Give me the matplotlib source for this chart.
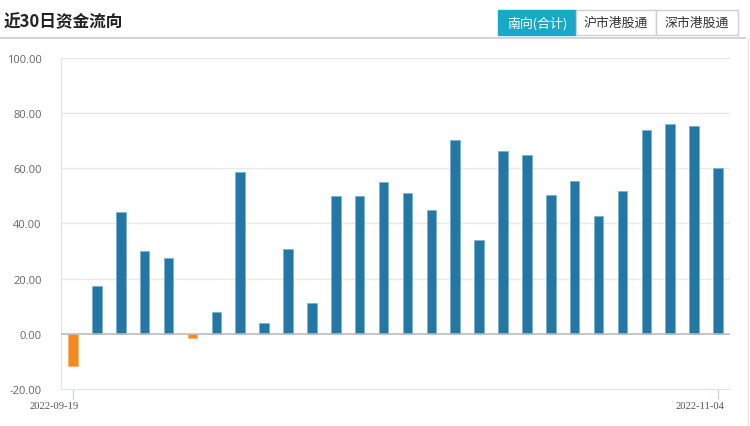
import numpy as np
import matplotlib
matplotlib.use('Agg')
from matplotlib import pyplot as plt
from matplotlib.patches import Rectangle
from matplotlib.lines import Line2D
from matplotlib.transforms import ScaledTranslation

plt.rcParams['font.family'] = ['Noto Sans CJK SC', 'DejaVu Sans']

# 南向资金 近30日 (亿元)
dates = ['2022-09-19', '2022-09-20', '2022-09-21', '2022-09-22', '2022-09-23',
         '2022-09-26', '2022-09-27', '2022-09-28', '2022-10-10', '2022-10-11',
         '2022-10-12', '2022-10-13', '2022-10-14', '2022-10-17', '2022-10-18',
         '2022-10-19', '2022-10-20', '2022-10-21', '2022-10-24', '2022-10-25',
         '2022-10-26', '2022-10-27', '2022-10-28', '2022-10-31', '2022-11-01',
         '2022-11-02', '2022-11-03', '2022-11-04']
flows = [-11.8, 17.2, 43.9, 30.0, 27.6, -1.4, 7.8, 58.6, 3.9, 30.6,
         11.2, 50.0, 50.0, 54.9, 50.8, 44.9, 70.2, 33.8, 66.3, 64.6,
         50.2, 55.3, 42.5, 51.5, 73.9, 76.0, 75.3, 59.9]
yticks = [-20, 0, 20, 40, 60, 80, 100]
buttons = ['南向(合计)', '沪市港股通', '深市港股通']

W, H = 750, 427
fig = plt.figure(figsize=(7.5, 4.27), dpi=100)
ax = fig.add_axes([61 / W, 1 - 390 / H, (730 - 61) / W, (390 - 58.5) / H])

x = np.arange(len(flows))
cols = ['#f5891f' if v < 0 else '#2377a4' for v in flows]
edges = ['#f9b56e' if v < 0 else '#7eb1cf' for v in flows]
ax.bar(x, flows, width=0.4, color=cols, edgecolor=edges, linewidth=0.6, zorder=3)

ax.set_xlim(-0.5, len(flows) - 0.5)
ax.set_ylim(-20, 100)
ax.set_yticks(yticks)
ax.set_yticklabels(['%.2f' % v for v in yticks], fontsize=8, color='#666666',
                   family=['Open Sans', 'DejaVu Sans'])
ax.tick_params(axis='y', length=0, pad=14)
for v in yticks[2:]:
    ax.axhline(v, color='#e8e8e8', lw=1, zorder=1)
ax.axhline(0, color='#bcbcbc', lw=1.2, zorder=4)

ax.set_xticks([0, len(flows) - 1])
ax.set_xticklabels([dates[0], dates[-1]], fontsize=7.6, color='#555555',
                   family=['Liberation Serif', 'DejaVu Serif'])
ax.tick_params(axis='x', length=7, color='#c9d3ea', width=1, pad=2)
for lab in ax.get_xticklabels():
    lab.set_transform(lab.get_transform() + ScaledTranslation(-0.185, 0, fig.dpi_scale_trans))

for s in ['top', 'right']:
    ax.spines[s].set_visible(False)
ax.spines['left'].set_color('#dde3f0')
ax.spines['bottom'].set_color('#dde3f0')

# header
fig.text(4 / W, 1 - 22 / H, '近30日资金流向', fontsize=12, fontweight='bold',
         color='#222222', va='center', ha='left')
fig.add_artist(Line2D([0, 745 / W], [1 - 39 / H, 1 - 39 / H], color='#cccccc', lw=1.2,
                      transform=fig.transFigure))
fig.add_artist(Line2D([748 / W, 748 / W], [0, 1 - 39 / H], color='#e6e6e6', lw=1,
                      transform=fig.transFigure))

bx = [498, 576, 656, 738]
for i, name in enumerate(buttons):
    x0, x1 = bx[i], bx[i + 1]
    active = i == 0
    fig.add_artist(Rectangle((x0 / W, 1 - 36 / H), (x1 - x0) / W, 25 / H,
                             transform=fig.transFigure,
                             facecolor='#18a9c6' if active else 'white',
                             edgecolor='#18a9c6' if active else '#cfcfcf', lw=1))
    fig.text((x0 + x1) / 2 / W, 1 - 23.5 / H, name, fontsize=9.3,
             color='white' if active else '#333333', ha='center', va='center')

fig.savefig('out.png', dpi=100)
